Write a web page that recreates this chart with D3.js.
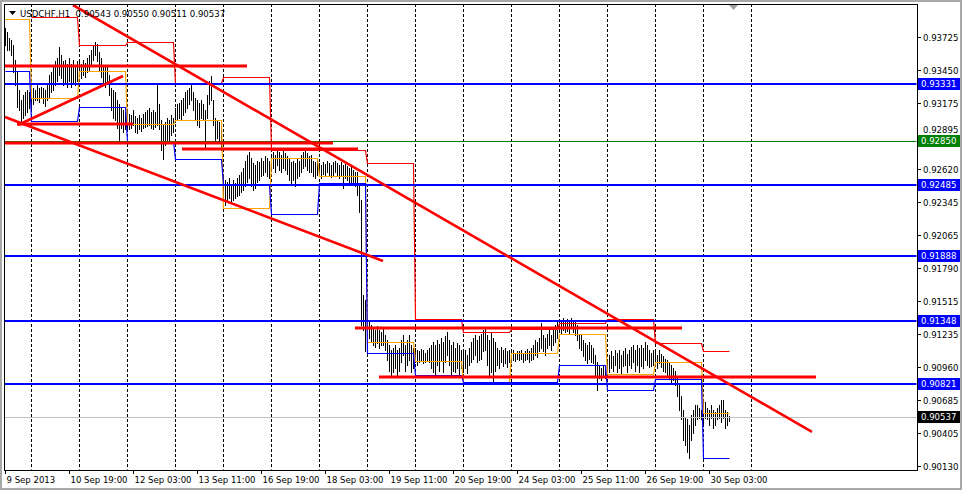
<!DOCTYPE html>
<html><head><meta charset="utf-8">
<script src="https://cdn.jsdelivr.net/npm/d3@7/dist/d3.min.js"></script>
<style>
html,body{margin:0;padding:0;background:#fff;}
svg{display:block;}
text{font-family:'DejaVu Sans Condensed','Liberation Sans Narrow','Liberation Sans',sans-serif;font-size:9.5px;}
</style></head>
<body>
<svg id="c" width="962" height="490"></svg>
<script>
// ---------- DATA ----------
const symbolTitle = "USDCHF,H1";
const headerOHLC = ["0.90543","0.90550","0.90511","0.90537"];

// hourly bar highs (9 Sep 2013 11:00 -> 30 Sep 2013 13:00)
const barHigh = [
 0.9380,0.9377,0.9372,0.9370,0.9366,0.9353,0.9343,0.9328,0.9320,0.9324,0.9326,0.9328,0.9326,
 0.9326,0.9330,0.9328,0.9332,0.9330,0.9331,0.9330,0.9328,0.9333,0.9341,0.9343,0.9348,0.9352,0.9355,0.9364,0.9357,0.9352,0.9353,0.9350,0.9355,0.9350,0.9353,0.9348,0.9352,
 0.9352,0.9350,0.9353,0.9351,0.9355,0.9357,0.9362,0.9366,0.9368,0.9367,0.9360,0.9355,0.9349,0.9347,0.9348,0.9341,0.9330,0.9328,0.9326,0.9320,0.9316,0.9313,0.9311,0.9310,
 0.9310,0.9308,0.9307,0.9311,0.9306,0.9305,0.9307,0.9305,0.9308,0.9310,0.9311,0.9313,0.9310,0.9311,0.9310,0.9334,0.9316,0.9303,0.9299,0.9301,0.9305,0.9303,0.9307,0.9305,
 0.9313,0.9316,0.9317,0.9320,0.9321,0.9326,0.9328,0.9330,0.9332,0.9326,0.9321,0.9320,0.9317,0.9320,0.9316,0.9311,0.9324,0.9336,0.9340,0.9320,0.9305,0.9303,0.9301,0.9299,
 0.9257,0.9253,0.9251,0.9254,0.9248,0.9253,0.9250,0.9254,0.9257,0.9259,0.9263,0.9269,0.9274,0.9276,0.9271,0.9267,0.9265,0.9269,0.9268,0.9271,0.9269,0.9273,0.9271,0.9269,
 0.9274,0.9276,0.9274,0.9278,0.9276,0.9274,0.9278,0.9275,0.9273,0.9271,0.9268,0.9269,0.9267,0.9271,0.9269,0.9274,0.9276,0.9278,0.9275,0.9273,0.9274,0.9269,0.9268,0.9271,
 0.9267,0.9265,0.9268,0.9266,0.9269,0.9267,0.9265,0.9268,0.9269,0.9267,0.9265,0.9268,0.9265,0.9266,0.9264,0.9263,0.9264,0.9261,0.9259,0.9259,0.9248,0.9236,0.9156,0.9152,
 0.9137,0.9134,0.9131,0.9129,0.9127,0.9130,0.9127,0.9125,0.9129,0.9123,0.9119,0.9114,0.9110,0.9112,0.9114,0.9110,0.9112,0.9119,0.9123,0.9114,0.9119,0.9123,0.9114,0.9112,
 0.9112,0.9110,0.9109,0.9111,0.9110,0.9108,0.9110,0.9112,0.9114,0.9117,0.9114,0.9119,0.9115,0.9120,0.9117,0.9122,0.9125,0.9119,0.9114,0.9117,0.9112,0.9116,0.9114,0.9110,
 0.9109,0.9110,0.9106,0.9112,0.9117,0.9120,0.9123,0.9119,0.9122,0.9124,0.9127,0.9129,0.9123,0.9119,0.9125,0.9120,0.9117,0.9112,0.9110,0.9113,0.9110,0.9112,0.9109,0.9110,
 0.9109,0.9110,0.9108,0.9109,0.9109,0.9110,0.9108,0.9109,0.9111,0.9109,0.9112,0.9114,0.9119,0.9117,0.9120,0.9133,0.9123,0.9120,0.9124,0.9127,0.9123,0.9129,0.9131,0.9134,
 0.9135,0.9134,0.9137,0.9135,0.9136,0.9134,0.9137,0.9135,0.9134,0.9131,0.9124,0.9123,0.9119,0.9116,0.9114,0.9117,0.9114,0.9112,0.9106,0.9100,0.9097,0.9095,0.9098,0.9095,
 0.9102,0.9106,0.9109,0.9105,0.9110,0.9108,0.9110,0.9106,0.9109,0.9112,0.9107,0.9110,0.9113,0.9114,0.9110,0.9114,0.9112,0.9114,0.9112,0.9117,0.9114,0.9110,0.9108,0.9110,
 0.9109,0.9106,0.9110,0.9107,0.9105,0.9103,0.9102,0.9100,0.9098,0.9095,0.9093,0.9088,0.9081,0.9072,0.9060,0.9053,0.9052,0.9047,0.9056,0.9060,0.9064,0.9064,0.9062,0.9060,
 0.9068,0.9067,0.9062,0.9060,0.9064,0.9060,0.9058,0.9062,0.9064,0.9068,0.9068,0.9060,0.9058,0.9055
];
const barLow = [
 0.9366,0.9362,0.9362,0.9357,0.9343,0.9332,0.9314,0.9311,0.9300,0.9305,0.9307,0.9310,0.9313,
 0.9313,0.9316,0.9320,0.9320,0.9318,0.9321,0.9317,0.9315,0.9320,0.9321,0.9326,0.9328,0.9332,0.9336,0.9341,0.9338,0.9332,0.9335,0.9331,0.9336,0.9331,0.9335,0.9332,0.9336,
 0.9340,0.9338,0.9341,0.9339,0.9343,0.9345,0.9349,0.9353,0.9357,0.9352,0.9345,0.9339,0.9335,0.9331,0.9333,0.9324,0.9311,0.9305,0.9303,0.9296,0.9284,0.9296,0.9293,0.9295,
 0.9296,0.9295,0.9296,0.9299,0.9293,0.9292,0.9295,0.9294,0.9296,0.9297,0.9298,0.9299,0.9296,0.9295,0.9297,0.9299,0.9295,0.9278,0.9270,0.9282,0.9286,0.9284,0.9290,0.9293,
 0.9301,0.9303,0.9305,0.9303,0.9307,0.9310,0.9313,0.9316,0.9320,0.9311,0.9303,0.9299,0.9297,0.9305,0.9303,0.9280,0.9305,0.9316,0.9320,0.9299,0.9286,0.9288,0.9284,0.9278,
 0.9236,0.9232,0.9236,0.9238,0.9233,0.9236,0.9238,0.9239,0.9240,0.9243,0.9244,0.9248,0.9251,0.9254,0.9248,0.9244,0.9246,0.9251,0.9253,0.9256,0.9257,0.9259,0.9256,0.9254,
 0.9261,0.9263,0.9259,0.9265,0.9261,0.9259,0.9263,0.9261,0.9258,0.9253,0.9250,0.9253,0.9248,0.9254,0.9256,0.9259,0.9263,0.9264,0.9261,0.9259,0.9259,0.9256,0.9254,0.9257,
 0.9257,0.9254,0.9258,0.9256,0.9259,0.9257,0.9255,0.9257,0.9259,0.9256,0.9254,0.9257,0.9246,0.9254,0.9253,0.9251,0.9250,0.9251,0.9248,0.9240,0.9226,0.9131,0.9127,0.9109,
 0.9119,0.9120,0.9117,0.9114,0.9113,0.9116,0.9112,0.9114,0.9114,0.9110,0.9102,0.9093,0.9089,0.9092,0.9095,0.9089,0.9093,0.9100,0.9106,0.9093,0.9098,0.9102,0.9092,0.9095,
 0.9100,0.9098,0.9100,0.9102,0.9099,0.9100,0.9102,0.9100,0.9095,0.9092,0.9089,0.9098,0.9093,0.9102,0.9092,0.9100,0.9106,0.9098,0.9089,0.9093,0.9092,0.9095,0.9089,0.9095,
 0.9092,0.9095,0.9091,0.9098,0.9100,0.9103,0.9106,0.9100,0.9102,0.9103,0.9109,0.9110,0.9098,0.9089,0.9092,0.9083,0.9093,0.9098,0.9095,0.9100,0.9097,0.9099,0.9096,0.9100,
 0.9100,0.9102,0.9101,0.9103,0.9102,0.9103,0.9100,0.9102,0.9103,0.9100,0.9102,0.9103,0.9106,0.9104,0.9109,0.9112,0.9109,0.9106,0.9112,0.9114,0.9110,0.9114,0.9117,0.9120,
 0.9125,0.9124,0.9127,0.9125,0.9126,0.9124,0.9129,0.9125,0.9123,0.9119,0.9112,0.9110,0.9105,0.9102,0.9099,0.9103,0.9100,0.9099,0.9089,0.9077,0.9087,0.9085,0.9088,0.9087,
 0.9089,0.9092,0.9095,0.9093,0.9098,0.9092,0.9095,0.9091,0.9097,0.9098,0.9092,0.9098,0.9095,0.9100,0.9093,0.9098,0.9092,0.9097,0.9095,0.9102,0.9098,0.9096,0.9097,0.9098,
 0.9097,0.9095,0.9099,0.9096,0.9093,0.9092,0.9089,0.9087,0.9083,0.9085,0.9081,0.9072,0.9060,0.9052,0.9035,0.9031,0.9025,0.9020,0.9035,0.9041,0.9047,0.9052,0.9053,0.9052,
 0.9047,0.9053,0.9052,0.9047,0.9053,0.9045,0.9047,0.9052,0.9053,0.9050,0.9053,0.9045,0.9047,0.9051
];

// trading-day start (bar index) and previous-day high / close / low levels
const dayStart  = [0,13,37,61,85,109,133,157,181,205,229,253,277,301,325,349];
const prevHigh  = [null,0.9389,0.9366,0.9368,0.9334,0.9339,0.9278,0.9278,0.9267,0.9136,0.9125,0.9128,0.9133,0.9136,0.9116,0.9109];
const prevClose = [0.9388,0.9321,0.9344,0.9300,0.9303,0.9229,0.9271,0.9256,0.9117,0.9101,0.9083,0.9108,0.9124,0.9090,0.9100,0.9057];
const prevLow   = [0.9344,0.9302,0.9314,0.9285,0.9270,0.9249,0.9224,0.9250,0.9108,0.9089,0.9083,0.9083,0.9098,0.9077,0.9086,0.9020];
const gridBars  = [13,37,61,85,109,133,157,181,205,229,253,277,301,325,349,373];

// axis ticks
const yTicks = [0.93725,0.93450,0.93175,0.92895,0.92620,0.92345,0.92065,0.91790,0.91515,0.91235,0.90960,0.90685,0.90405,0.90130];
const xTickBars = [0,32,64,96,128,160,192,224,256,288,320,352];
const xTickText = ["9 Sep 2013","10 Sep 19:00","12 Sep 03:00","13 Sep 11:00","16 Sep 19:00","18 Sep 03:00","19 Sep 11:00","20 Sep 19:00","24 Sep 03:00","25 Sep 11:00","26 Sep 19:00","30 Sep 03:00"];

// horizontal levels
const blueLevels = [0.93331,0.92485,0.91888,0.91348,0.90821];
const greenLevel = 0.92850;
const lastPrice  = 0.90537;

// drawn red segments (bar index anchors, price)
const redHorizontals = [
 {a:0,b:121,p:0.9348},{a:6,b:64,p:0.9300},{a:0,b:164,p:0.9284},
 {a:88.5,b:176.5,p:0.9279},{a:175,b:338.5,p:0.9129},{a:187,b:405.5,p:0.9088}
];
const redTrends = [
 {a:0,pa:0.93054,b:189,pb:0.91848},
 {a:6.5,pa:0.92988,b:59,pb:0.93398},
 {a:34,pa:0.93993,b:403.5,pb:0.90415}
];

// ---------- DRAW ----------
const svg = d3.select("#c");
const L=4, T=4, R=917, B=470;

svg.append("rect").attr("x",0).attr("y",0).attr("width",962).attr("height",490).attr("fill","#fff");
svg.append("rect").attr("x",1).attr("y",1).attr("width",960).attr("height",488)
   .attr("fill","none").attr("stroke","#a8a8a8").attr("stroke-width",2);

const x = d3.scaleLinear().domain([0,362]).range([5,729]);
const y = d3.scaleLinear().domain([0.90130,0.93725]).range([466,37]);

svg.append("clipPath").attr("id","clip").append("rect")
   .attr("x",L+0.5).attr("y",T+0.5).attr("width",R-L-1).attr("height",B-T-1);
const plot = svg.append("g").attr("clip-path","url(#clip)");

// grid
plot.selectAll("line.grid").data(gridBars).join("line")
  .attr("x1",d=>Math.round(x(d))+0.5).attr("x2",d=>Math.round(x(d))+0.5)
  .attr("y1",T).attr("y2",B).attr("stroke","#000").attr("stroke-width",1)
  .attr("stroke-dasharray","3,2");

// price bars
plot.selectAll("line.bar").data(barHigh).join("line")
  .attr("x1",(d,i)=>Math.round(x(i))+0.5).attr("x2",(d,i)=>Math.round(x(i))+0.5)
  .attr("y1",d=>Math.round(y(d))).attr("y2",(d,i)=>Math.max(Math.round(y(barLow[i])),Math.round(y(d))+1)+1)
  .attr("stroke","#000").attr("stroke-width",1);

// previous-day steps
function stepPts(vals){
  const pts=[];
  dayStart.forEach((s,k)=>{
    const e = k<dayStart.length-1 ? dayStart[k+1]-1 : barHigh.length-1;
    pts.push({i:s,v:vals[k]}); pts.push({i:e,v:vals[k]});
  });
  return pts;
}
const stepLine = d3.line().defined(d=>d.v!=null).x(d=>Math.round(x(d.i))+0.5).y(d=>Math.round(y(d.v))+0.5);
[[prevHigh,"#ff0000"],[prevClose,"#ffa500"],[prevLow,"#0000ff"]].forEach(([vals,col])=>{
  plot.append("path").attr("d",stepLine(stepPts(vals))).attr("fill","none")
      .attr("stroke",col).attr("stroke-width",1.2);
});

// thin level lines
plot.append("line").attr("x1",L).attr("x2",R).attr("y1",Math.round(y(greenLevel))+0.5).attr("y2",Math.round(y(greenLevel))+0.5)
   .attr("stroke","#008000").attr("stroke-width",1);
plot.append("line").attr("x1",L).attr("x2",R).attr("y1",Math.round(y(lastPrice))+0.5).attr("y2",Math.round(y(lastPrice))+0.5)
   .attr("stroke","#c0c0c0").attr("stroke-width",1);

// blue levels
plot.selectAll("line.blue").data(blueLevels).join("line")
  .attr("x1",L).attr("x2",R).attr("y1",d=>Math.round(y(d))).attr("y2",d=>Math.round(y(d)))
  .attr("stroke","#0000ff").attr("stroke-width",2);

// red horizontals & trendlines
plot.selectAll("line.rh").data(redHorizontals).join("line")
  .attr("x1",d=>x(d.a)).attr("x2",d=>x(d.b)).attr("y1",d=>Math.round(y(d.p))).attr("y2",d=>Math.round(y(d.p)))
  .attr("stroke","#ff0000").attr("stroke-width",3);
plot.selectAll("line.rt").data(redTrends).join("line")
  .attr("x1",d=>x(d.a)).attr("x2",d=>x(d.b)).attr("y1",d=>y(d.pa)).attr("y2",d=>y(d.pb))
  .attr("stroke","#ff0000").attr("stroke-width",2.6);

// shift marker
svg.append("path").attr("d","M729,5 L738,5 L733.5,10 Z").attr("fill","#a0a0a0");

// frame
svg.append("rect").attr("x",L+0.5).attr("y",T+0.5).attr("width",R-L).attr("height",B-T)
   .attr("fill","none").attr("stroke","#000").attr("stroke-width",1);

// price boxes (positions used to keep tick labels clear of them)
const boxes = blueLevels.map(v=>({v,bg:"#0000ff"}))
  .concat([{v:greenLevel,bg:"#008000"},{v:lastPrice,bg:"#000000"}]);

// y axis
const yAx = svg.append("g");
yTicks.forEach(t=>{
  const yy=Math.round(y(t))+0.5;
  yAx.append("line").attr("x1",R).attr("x2",R+4).attr("y1",yy).attr("y2",yy).attr("stroke","#000");
  let ty=yy;
  boxes.forEach(b=>{
    const by=Math.round(y(b.v));
    if (Math.abs(ty-by)<11 && ty<by) ty=by-11;
  });
  yAx.append("text").attr("x",R+6).attr("y",ty).attr("dy","0.36em").attr("fill","#000").text(t.toFixed(5));
});

boxes.forEach(b=>{
  const yy=Math.round(y(b.v));
  svg.append("rect").attr("x",R+1).attr("y",yy-6).attr("width",42).attr("height",12).attr("fill",b.bg);
  svg.append("text").attr("x",R+4).attr("y",yy).attr("dy","0.36em").attr("fill","#fff").text(b.v.toFixed(5));
});

// x axis
xTickBars.forEach((b,k)=>{
  const xx=Math.round(x(b))+0.5;
  svg.append("line").attr("x1",xx).attr("x2",xx).attr("y1",B).attr("y2",B+4).attr("stroke","#000");
  svg.append("text").attr("x",xx+1).attr("y",483).attr("fill","#000").text(xTickText[k]);
});

// header
svg.append("path").attr("d","M9,11 L16,11 L12.5,15 Z").attr("fill","#000");
svg.append("text").attr("x",20).attr("y",17).attr("font-size","11px")
   .attr("xml:space","preserve").style("white-space","pre")
   .text(symbolTitle + "  " + headerOHLC.join(" "));
</script>
</body></html>
